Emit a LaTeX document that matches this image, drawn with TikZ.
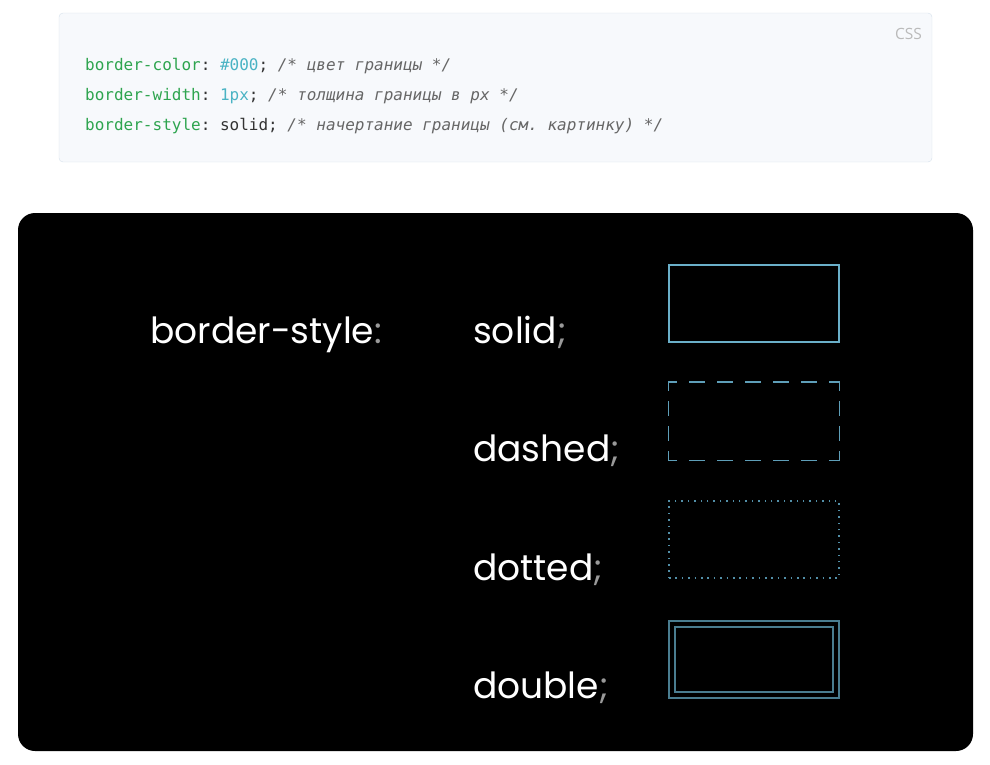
\documentclass[tikz,border=0pt]{standalone}
\usepackage{fontspec}
\usepackage{xcolor}
\usepackage{tikz}
\setmainfont{Open Sans}
\newfontfamily\codefont{DejaVu Sans Mono}
\newfontfamily\panelfont{Poppins}
\frenchspacing

\definecolor{codebg}{HTML}{F7F9FC}
\definecolor{codeline}{HTML}{D6E1EB}
\definecolor{propgreen}{HTML}{2EA44F}
\definecolor{valteal}{HTML}{4AB3C4}
\definecolor{punct}{HTML}{333333}
\definecolor{comment}{HTML}{666666}
\definecolor{solidblue}{HTML}{6AAFC9}
\definecolor{dashblue}{HTML}{5E9EB8}
\definecolor{dotblue}{HTML}{528FA8}
\definecolor{doubleblue}{HTML}{4A7D90}

\begin{document}
\begin{tikzpicture}[x=1pt, y=-1pt,
    codetext/.style={anchor=base west, inner sep=0pt, font=\codefont\fontsize{16}{18}\selectfont},
    bigtext/.style={anchor=base west, inner sep=0pt, text=white, font=\panelfont\fontsize{36}{40}\selectfont},
    sample/.style={rectangle, minimum width=170pt, minimum height=77pt, inner sep=0pt, line width=1.3pt},
    dashside/.style={draw=dashblue, line width=1.3pt, line cap=rect}]
     \useasboundingbox (0,0) rectangle (990,764);

     % code block
     \draw[codeline, fill=codebg, rounded corners=4pt] (59,13) rectangle (932,162);
     \node[anchor=base east, inner sep=0pt, text=black!27, font=\fontsize{15.5}{18}\selectfont] (lang) at (922,39) {CSS};
     \node[codetext] (l1) at (85,70) {\color{propgreen}border-color\color{punct}: \color{valteal}\#000\color{punct}; \color{comment}\itshape /* цвет границы */};
     \node[codetext] (l2) at (85,100) {\color{propgreen}border-width\color{punct}: \color{valteal}1px\color{punct}; \color{comment}\itshape /* толщина границы в px */};
     \node[codetext] (l3) at (85,130) {\color{propgreen}border-style\color{punct}: solid; \color{comment}\itshape /* начертание границы (см. картинку) */};

     % black panel
     \fill[black, rounded corners=17pt] (18,213) rectangle (973,751);
     \node[bigtext] (prop) at (150,343) {border-style\textcolor{black!40!white}{:}};
     \node[bigtext] (solid) at (473,343) {solid\textcolor{black!40!white}{;}};
     \node[bigtext] (dashed) at (473,461) {dashed\textcolor{black!40!white}{;}};
     \node[bigtext] (dotted) at (473,580) {dotted\textcolor{black!40!white}{;}};
     \node[bigtext] (double) at (473,698) {double\textcolor{black!40!white}{;}};

     \node[sample, draw=solidblue] (solidbox) at (754,303.5) {};
     \node[sample] (dashbox) at (754,421) {};
     \node[sample, draw=dotblue, dash pattern=on 1.5pt off 4.9pt] (dotbox) at (754,539.5) {};
     \node[sample, draw=doubleblue, minimum width=164pt, minimum height=71pt, line width=1.4pt, double=black, double distance=4.4pt] (doublebox) at (754,659.5) {};

     % dashed sides, one by one
     \draw[dashside, dash pattern=on 15pt off 13pt, dash phase=7pt] (dashbox.north west) -- (dashbox.north east);
     \draw[dashside, dash pattern=on 15pt off 13pt, dash phase=7pt] (dashbox.south west) -- (dashbox.south east);
     \draw[dashside, dash pattern=on 13pt off 12pt, dash phase=5pt] (dashbox.north west) -- (dashbox.south west);
     \draw[dashside, dash pattern=on 13pt off 12pt, dash phase=5pt] (dashbox.north east) -- (dashbox.south east);
\end{tikzpicture}
\end{document}
